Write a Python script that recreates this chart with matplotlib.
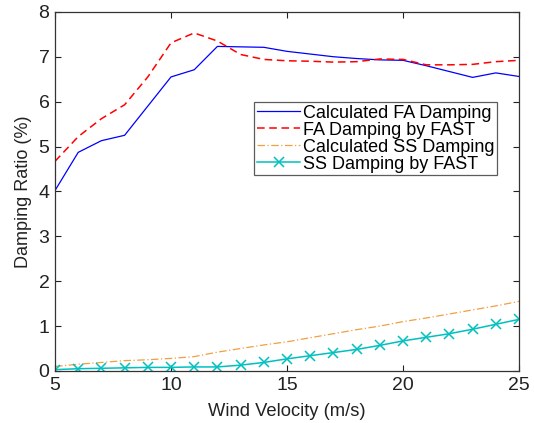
import matplotlib
matplotlib.use("Agg")
import matplotlib.pyplot as plt

wind = [5, 6, 7, 8, 9, 10, 11, 12, 13, 14, 15, 16, 17, 18, 19, 20, 21, 22, 23, 24, 25]
calc_fa = [4.02, 4.87, 5.13, 5.25, 5.90, 6.55, 6.71, 7.23, 7.22, 7.21, 7.12, 7.06, 7.00, 6.96, 6.93, 6.92, 6.80, 6.67, 6.54, 6.64, 6.56]
fast_fa = [4.67, 5.22, 5.62, 5.93, 6.55, 7.31, 7.53, 7.35, 7.05, 6.94, 6.91, 6.90, 6.88, 6.89, 6.95, 6.94, 6.82, 6.82, 6.83, 6.89, 6.92]
calc_ss = [0.10, 0.15, 0.19, 0.23, 0.25, 0.28, 0.32, 0.42, 0.50, 0.58, 0.65, 0.74, 0.83, 0.92, 1.00, 1.10, 1.18, 1.27, 1.36, 1.45, 1.55]
fast_ss = [0.03, 0.05, 0.06, 0.07, 0.08, 0.08, 0.09, 0.09, 0.13, 0.19, 0.27, 0.34, 0.41, 0.48, 0.57, 0.67, 0.75, 0.83, 0.93, 1.04, 1.15]
labels = ["Calculated FA Damping", "FA Damping by FAST", "Calculated SS Damping", "SS Damping by FAST"]

plt.rcParams['font.family'] = ['Liberation Sans', 'DejaVu Sans']
fig = plt.figure(figsize=(5.34, 4.23), dpi=100)
ax = fig.add_axes([0.103, 0.123, 0.869, 0.849])

ax.plot(wind, calc_fa, color='#0000ff', lw=0.9, label=labels[0])
ax.plot(wind, fast_fa, color='#ff0000', lw=1.1, ls=(0, (5, 3)), label=labels[1])
ax.plot(wind, calc_ss, color='#f0a040', lw=0.9, ls=(0, (6, 2, 1, 2)), label=labels[2])
ax.plot(wind, fast_ss, color='#00c0c0', lw=1.1, marker='x', ms=7, mew=1.1, label=labels[3])

ax.set_xlim(5, 25)
ax.set_ylim(0, 8)
ax.set_xticks([5, 10, 15, 20, 25])
ax.set_yticks(range(0, 9))
ax.tick_params(direction='in', top=True, right=True, labelsize=14, length=4, colors='#222222', pad=4)
for s in ax.spines.values():
    s.set_color('#333333')
    s.set_linewidth(0.9)
ax.set_xlabel("Wind Velocity (m/s)", fontsize=13.2, color='#222222', labelpad=7)
ax.set_ylabel("Damping Ratio (%)", fontsize=13, color='#222222', labelpad=5)

leg = ax.legend(loc='upper right', bbox_to_anchor=(0.931, 0.759), bbox_transform=fig.transFigure,
                borderaxespad=0, fontsize=13, frameon=True, fancybox=False, edgecolor='#333333',
                handlelength=2.4, handletextpad=0.15, labelspacing=0.0, borderpad=0.15)
leg.get_frame().set_linewidth(0.9)

fig.savefig("out.png", dpi=100)
